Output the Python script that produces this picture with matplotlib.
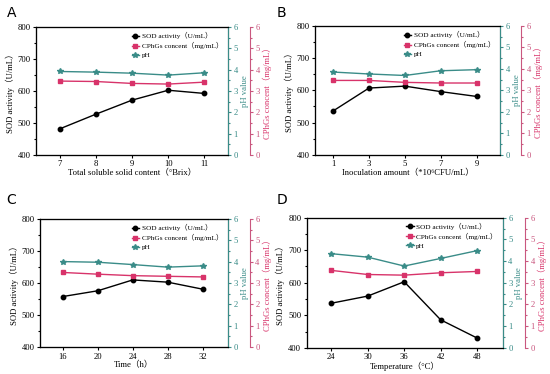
import matplotlib.pyplot as plt
from matplotlib.ticker import MultipleLocator

plt.rcParams['font.family'] = ['Liberation Serif', 'Noto Sans CJK SC', 'DejaVu Serif']

# Data
brix = [7, 8, 9, 10, 11]
sod_a = [481, 527, 571, 602, 592]
cph_a = [3.46, 3.44, 3.35, 3.32, 3.41]
ph_a = [3.91, 3.88, 3.83, 3.74, 3.85]

inoc = [1, 3, 5, 7, 9]
sod_b = [536, 607, 613, 596, 581]
cph_b = [3.46, 3.46, 3.37, 3.34, 3.34]
ph_b = [3.85, 3.76, 3.69, 3.91, 3.96]

time_h = [16, 20, 24, 28, 32]
sod_c = [558, 576, 610, 603, 581]
cph_c = [3.50, 3.42, 3.35, 3.32, 3.29]
ph_c = [4.01, 3.98, 3.87, 3.75, 3.81]

temp = [24, 30, 36, 42, 48]
sod_d = [537, 559, 603, 486, 430]
cph_d = [3.57, 3.38, 3.35, 3.46, 3.52]
ph_d = [4.34, 4.18, 3.77, 4.12, 4.48]

TEAL = '#3a8c88'
PINK = '#d8336a'
PINK_AX = '#c9577f'

fig = plt.figure(figsize=(5.5, 3.74), dpi=100)


def panel(rect, x, sod, cph, ph, xlim, xlabel, letter, letter_xy):
    ax = fig.add_axes(rect)
    ax_ph = ax.twinx()
    ax_c = ax.twinx()
    ax_c.spines['right'].set_position(('axes', 1.115))

    l1, = ax.plot(x, sod, color='black', marker='o', ms=3.2, lw=1, label='SOD activity（U/mL）')
    l2, = ax_c.plot(x, cph, color=PINK, marker='s', ms=3.2, lw=1, label='CPhGs concent（mg/mL）')
    l3, = ax_ph.plot(x, ph, color=TEAL, marker='*', ms=4, lw=1, label='pH')

    ax.set_xlim(*xlim)
    ax.set_xticks(x)
    ax.set_ylim(400, 800)
    ax.yaxis.set_major_locator(MultipleLocator(100))
    ax.yaxis.set_minor_locator(MultipleLocator(50))
    ax.set_ylabel('SOD activity（U/mL）', fontsize=6.2, labelpad=2)
    ax.set_xlabel(xlabel, fontsize=6.2, labelpad=0.5)
    ax.tick_params(which='both', direction='out', labelsize=6.2, pad=1.5, length=2.5, width=0.8)
    ax.tick_params(which='minor', length=1.5)

    for a, col, lab in [(ax_ph, TEAL, 'pH value'), (ax_c, PINK_AX, 'CPhGs concent（mg/mL）')]:
        a.set_ylim(0, 6)
        a.yaxis.set_major_locator(MultipleLocator(1))
        a.yaxis.set_minor_locator(MultipleLocator(0.5))
        a.tick_params(which='both', direction='out', labelsize=6.2, pad=1.5, length=2.5,
                      width=0.8, colors=col)
        a.tick_params(which='minor', length=1.5)
        a.spines['right'].set_color(col)
        a.set_ylabel(lab, fontsize=6.2, color=col, labelpad=2)
    ax_c.yaxis.label.set_color(PINK)

    ax.legend(handles=[l1, l2, l3], loc='upper right', frameon=False, fontsize=5.2,
              handlelength=1.0, handletextpad=0.4, labelspacing=0.4, borderaxespad=0.3)
    fig.text(letter_xy[0], letter_xy[1], letter, fontsize=10, family='DejaVu Sans', va='top')


panel([0.0655, 0.586, 0.349, 0.342], brix, sod_a, cph_a, ph_a, (6.35, 11.65),
      'Total soluble solid content（°Brix）', 'A', (0.012, 0.985))
panel([0.573, 0.586, 0.336, 0.345], inoc, sod_b, cph_b, ph_b, (0.0, 10.3),
      'Inoculation amount（*10⁶CFU/mL）', 'B', (0.503, 0.985))
panel([0.0727, 0.072, 0.342, 0.342], time_h, sod_c, cph_c, ph_c, (13.4, 34.9),
      'Time（h）', 'C', (0.012, 0.485))
panel([0.558, 0.07, 0.356, 0.348], temp, sod_d, cph_d, ph_d, (20, 52.2),
      'Temperature（°C）', 'D', (0.503, 0.485))

fig.savefig('out.png', dpi=100)
